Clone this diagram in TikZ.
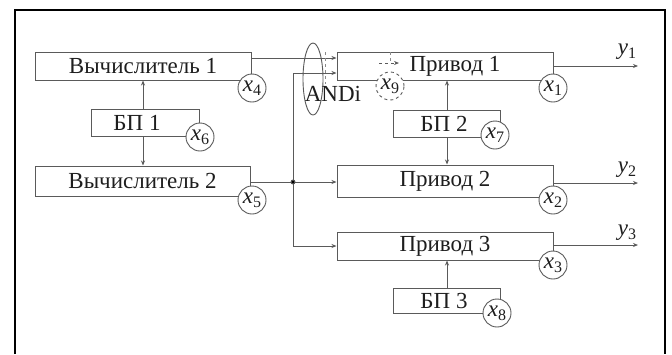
\documentclass[tikz,border=0pt]{standalone}
\usepackage{fontspec}
\setmainfont{Liberation Serif}
\usetikzlibrary{arrows.meta,calc,shapes.geometric}
\definecolor{ln}{HTML}{5A5A5A}
\definecolor{tx}{HTML}{1E1E1E}
\newcommand{\xv}[2]{\textit{#1}\raisebox{-0.35ex}{\fontsize{16}{16}\selectfont #2}}
\begin{document}
\begin{tikzpicture}[x=1pt,y=-1pt,
  every node/.style={text=tx,font=\fontsize{23}{25}\selectfont},
  box/.style={draw=ln,line width=1pt,inner sep=0pt,fill=white},
  circ/.style={draw=ln,line width=0.9pt,circle,fill=white,minimum size=28pt,inner sep=0pt,font=\fontsize{23}{24}\selectfont},
  arr/.style={draw=ln,line width=0.9pt,-{Stealth[length=5pt,width=4pt]}},
  ln/.style={draw=ln,line width=0.9pt}]
\useasboundingbox (0,0) rectangle (672,354);
\fill[white] (0,0) rectangle (672,354);
\draw[line width=2.2pt,black] (15,354) -- (15,10) -- (665,10) -- (665,354);
% boxes
\node[box,minimum width=216pt,minimum height=28pt] (v1) at (143,66) {Вычислитель 1};
\node[box,minimum width=108pt,minimum height=27pt] (b1) at (145,122.5) {\hspace*{-16pt}БП 1};
\node[box,minimum width=215pt,minimum height=30pt] (v2) at (142.5,181) {Вычислитель 2};
\node[box,minimum width=216pt,minimum height=28pt] (p1) at (445,66) {\hspace*{20pt}Привод 1};
\node[box,minimum width=107pt,minimum height=27pt] (b2) at (446.5,123.5) {\hspace*{-5pt}БП 2};
\node[box,minimum width=216pt,minimum height=32pt] (p2) at (445,181) {Привод 2};
\node[box,minimum width=216pt,minimum height=28pt] (p3) at (445,246) {Привод 3};
\node[box,minimum width=107pt,minimum height=25pt] (b3) at (446.5,300.5) {\hspace*{-5pt}БП 3};
% vertical supply arrows
\draw[arr] (b1.north -| 143,0) -- (v1.south -| 143,0);
\draw[arr] (b1.south -| 143,0) -- (v2.north -| 143,0);
\draw[arr] (b2.north -| 447,0) -- (p1.south -| 447,0);
\draw[arr] (b2.south -| 447,0) -- (p2.north -| 447,0);
\draw[arr] (b3.north -| 447,0) -- (p3.south -| 447,0);
% computer outputs
\coordinate (jn) at (293,182);
\draw[arr] (v1.east |- 0,58) -- (p1.west |- 0,58);
\draw[ln] (v2.east |- jn) -- (jn);
\draw[arr] (jn) -- (p2.west |- jn);
\draw[arr] (jn) -- (jn |- 0,73) -- (p1.west |- 0,73);
\draw[arr] (jn) -- (jn |- 0,246) -- (p3.west |- 0,246);
\fill[ln] (jn) circle (2pt);
% outputs
\coordinate (o1) at (638,66);
\coordinate (o2) at (638,183);
\coordinate (o3) at (638,245);
\draw[arr] (p1.east |- o1) -- (o1);
\draw[arr] (p2.east |- o2) -- (o2);
\draw[arr] (p3.east |- o3) -- (o3);
\node (y1) at (627,52) {\xv{y}{1}};
\node (y2) at (627,170) {\xv{y}{2}};
\node (y3) at (627,233) {\xv{y}{3}};
% ANDi
\node[ellipse,draw=ln,line width=0.9pt,minimum width=20pt,minimum height=72pt,inner sep=0pt] (andiell) at (313,79) {};
\draw[ln,dashed,draw=ln!70] (325,52) -- (325,84);
\node (andi) at (333,94) {ANDi};
\draw[ln,dashed,draw=ln!70] (390,52) -- (390,63);
\draw[arr,dashed] (379,63) -- (399,63);
\node[circ,dashed] (c9) at (390,86) {\xv{x}{9}};
% circles
\node[circ] (c4) at (252,88) {\xv{x}{4}};
\node[circ] (c6) at (200,137) {\xv{x}{6}};
\node[circ] (c5) at (252,200) {\xv{x}{5}};
\node[circ] (c1) at (553,88) {\xv{x}{1}};
\node[circ] (c7) at (495,135) {\xv{x}{7}};
\node[circ] (c2) at (553,200) {\xv{x}{2}};
\node[circ] (c3) at (553,265) {\xv{x}{3}};
\node[circ] (c8) at (497,313) {\xv{x}{8}};
\end{tikzpicture}
\end{document}
